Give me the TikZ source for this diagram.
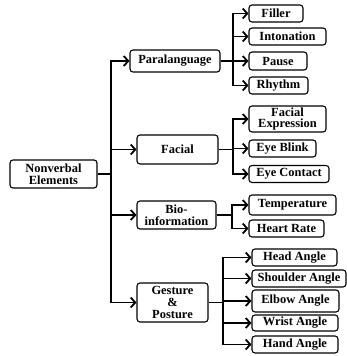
\documentclass[tikz,border=0pt]{standalone}
\usepackage{fontspec}
\setmainfont{Liberation Serif}
\usepackage{tikz}
\usetikzlibrary{arrows.meta,positioning,calc}

\tikzset{
  elem/.style={draw,rounded corners=3bp,line width=1.1pt,inner sep=0pt,align=center,
    font=\fontsize{12.5}{12}\selectfont\bfseries},
  conn/.style={line width=1.8pt,-{Straight Barb[length=4.5bp,width=10bp,line width=1.8pt]}},
  link/.style={line width=1.8pt}
}

\begin{document}
\begin{tikzpicture}[x=1bp,y=-1bp]
  \useasboundingbox (0,0) rectangle (347,356);
  % root and first level
  \node[elem,minimum width=87bp,minimum height=28bp] (root) at (53.5,174) {Nonverbal\\Elements};
  \node[elem,minimum width=90bp,minimum height=22bp] (para) at (175,61) {Paralanguage};
  \node[elem,minimum width=81bp,minimum height=29bp] (facial) at (177.5,149.5) {Facial};
  \node[elem,minimum width=79bp,minimum height=28bp] (bio) at (176.5,215) {Bio-\\information};
  \node[elem,minimum width=71bp,minimum height=39bp] (gest) at (172.5,302.5) {Gesture\\\&\\Posture};
  % paralanguage
  \node[elem,minimum width=54bp,minimum height=17bp] (filler) at (276,13.5) {Filler};
  \node[elem,minimum width=77bp,minimum height=17bp] (inton) at (287.5,36.5) {Intonation};
  \node[elem,minimum width=58bp,minimum height=18bp] (pause) at (278,61) {Pause};
  \node[elem,minimum width=59bp,minimum height=17bp] (rhythm) at (278.5,85.5) {Rhythm};
  % facial
  \node[elem,minimum width=77bp,minimum height=26bp] (facexp) at (287.5,119) {Facial\\Expression};
  \node[elem,minimum width=67bp,minimum height=17bp] (blink) at (282.5,148.5) {Eye Blink};
  \node[elem,minimum width=80bp,minimum height=17bp] (contact) at (289,174) {Eye Contact};
  % bio-information
  \node[elem,minimum width=87bp,minimum height=20bp] (temp) at (292.5,205) {Temperature};
  \node[elem,minimum width=75bp,minimum height=17bp] (heart) at (286.5,228.5) {Heart Rate};
  % gesture and posture
  \node[elem,minimum width=85bp,minimum height=17bp] (head) at (294.5,257.5) {Head Angle};
  \node[elem,minimum width=94bp,minimum height=17bp] (shoulder) at (299,278.5) {Shoulder Angle};
  \node[elem,minimum width=87bp,minimum height=22bp] (elbow) at (295.5,301) {Elbow Angle};
  \node[elem,minimum width=86bp,minimum height=16bp] (wrist) at (295,323) {Wrist Angle};
  \node[elem,minimum width=86bp,minimum height=17bp] (hand) at (295,344.5) {Hand Angle};

  % split points
  \coordinate (s0) at (111,174);
  \coordinate (s1) at (233,61);
  \coordinate (s2) at (233,149.5);
  \coordinate (s3) at (232,215);
  \coordinate (s4) at (223,302.5);

  \draw[link] (root.east) -- (s0);
  \foreach \t in {para,facial,bio,gest} \draw[conn] (s0) |- (\t.west);
  \draw[link] (para.east) -- (s1);
  \foreach \t in {filler,inton,pause,rhythm} \draw[conn] (s1) |- (\t.west);
  \draw[link] (facial.east) -- (s2);
  \foreach \t in {facexp,blink,contact} \draw[conn] (s2) |- (\t.west);
  \draw[link] (bio.east) -- (s3);
  \foreach \t in {temp,heart} \draw[conn] (s3) |- (\t.west);
  \draw[link] (gest.east) -- (s4);
  \foreach \t in {head,shoulder,elbow,wrist,hand} \draw[conn] (s4) |- (\t.west);
\end{tikzpicture}
\end{document}
